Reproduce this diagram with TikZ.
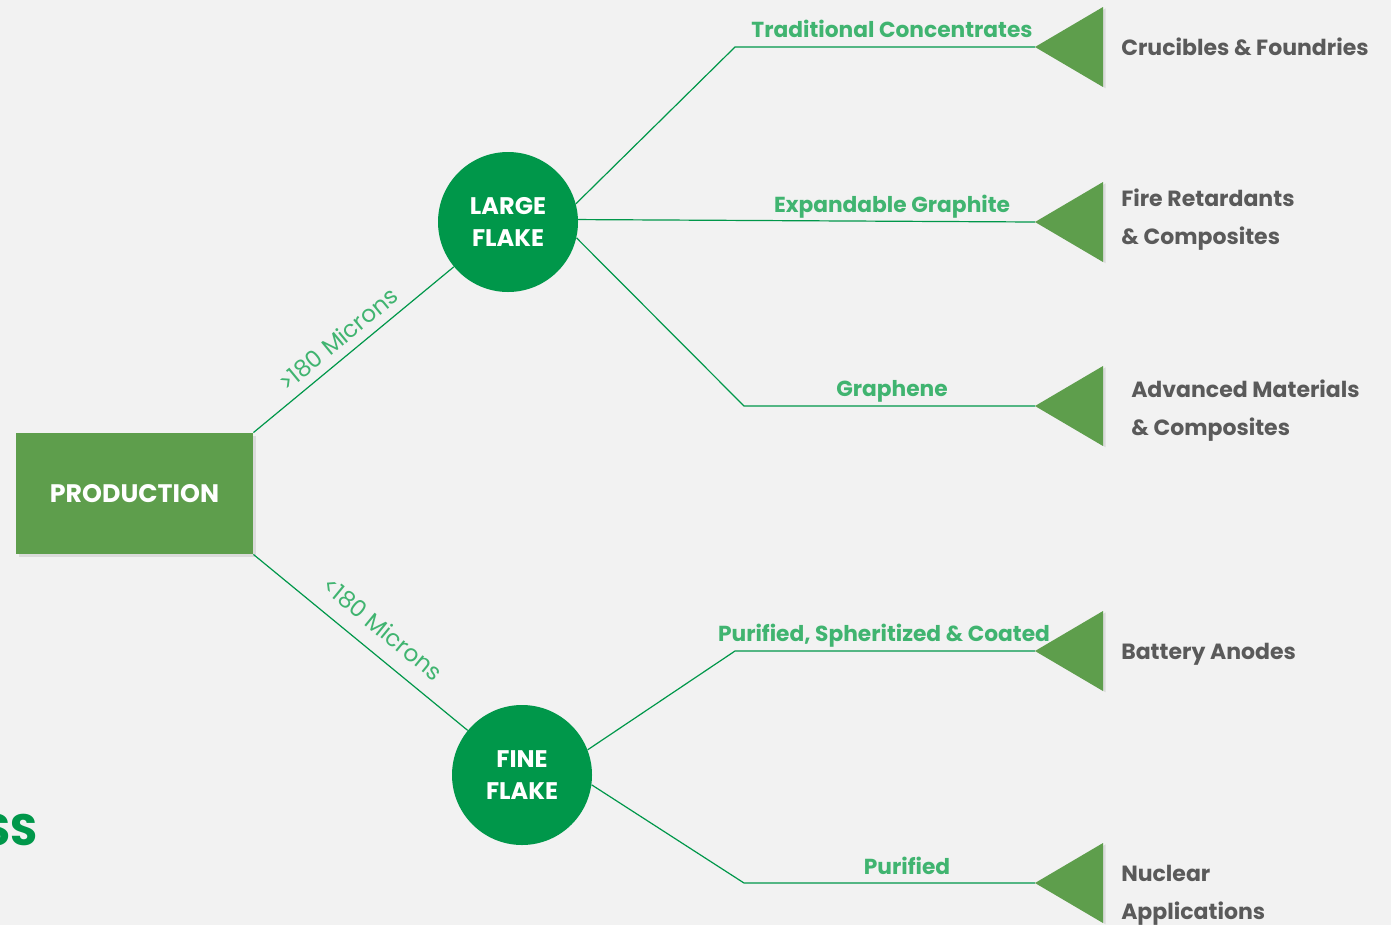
\documentclass[tikz,border=0pt]{standalone}
\usepackage{fontspec}
\setmainfont{Poppins}
\usetikzlibrary{shadows}

\definecolor{pagegray}{RGB}{242,242,242}
\definecolor{leafgreen}{RGB}{94,158,76}
\definecolor{deepgreen}{RGB}{0,151,74}
\definecolor{labelgreen}{RGB}{64,180,112}
\definecolor{textgray}{RGB}{90,90,90}

\begin{document}
\begin{tikzpicture}[x=0.75pt,y=-0.75pt,
  link/.style={draw=deepgreen, line width=0.9pt},
  flake/.style={circle, fill=deepgreen, minimum size=105pt, inner sep=0pt,
    text=white, align=center, font=\fontsize{18}{24}\selectfont\bfseries},
  use/.style={text=textgray, anchor=west, align=left, inner sep=0pt,
    font=\fontsize{16.5}{28.5}\selectfont\bfseries},
  grade/.style={text=labelgreen, anchor=base,
    font=\fontsize{16.3}{20}\selectfont\bfseries},
  size/.style={text=labelgreen, sloped, above=3pt, font=\fontsize{17.5}{20}\selectfont},
  wedge/.style={fill=leafgreen, drop shadow={opacity=0.2, shadow xshift=2pt, shadow yshift=-1pt}}]

  \fill[pagegray] (0,0) rectangle (1391,925);
  \useasboundingbox (0,0) rectangle (1391,925);
  \clip (0,0) rectangle (1391,925);

  \node[text=deepgreen, anchor=east, inner sep=0pt,
    font=\fontsize{33}{36}\selectfont\bfseries] (ss) at (38,830) {SS};

  \node[fill=leafgreen, minimum width=178pt, minimum height=91pt,
    text=white, font=\fontsize{19}{20}\selectfont\bfseries,
    drop shadow={opacity=0.2, shadow xshift=2pt, shadow yshift=-2pt}]
    (prod) at (134.5,493.5) {PRODUCTION};

  \node[flake] (large) at (508,222) {LARGE\\FLAKE};
  \node[flake] (fine) at (522,775) {FINE\\FLAKE};

  % end wedges
  \foreach \n/\y in {1/47, 2/222, 3/406, 4/651, 5/883} {
    \coordinate (tip\n) at (1035,\y);
    \fill[wedge] (tip\n) -- (1103,\y-40) -- (1103,\y+40) -- cycle;
  }

  \coordinate (b1) at (735,47);
  \coordinate (b3) at (744,406);
  \coordinate (b4) at (735,651);
  \coordinate (b5) at (744,883);

  \draw[link] (prod.north east) -- (large)
    node[size, pos=0.48]{>180 Microns};
  \draw[link] (prod.south east) -- (fine)
    node[size, pos=0.53, above=5pt]{<180 Microns};

  \draw[link] (large.15) -- (b1) -- (tip1);
  \draw[link] (large.2) -- (tip2);
  \draw[link] (large.-13) -- (b3) -- (tip3);
  \draw[link] (fine.21) -- (b4) -- (tip4);
  \draw[link] (fine.-8) -- (b5) -- (tip5);

  \node[grade] (g1) at (892,37) {Traditional Concentrates};
  \node[grade] (g2) at (892,212) {Expandable Graphite};
  \node[grade] (g3) at (892,396) {Graphene};
  \node[grade] (g4) at (884,641) {Purified, Spheritized \& Coated};
  \node[grade] (g5) at (907,874) {Purified};

  \node[use] (u1) at (1121,47) {Crucibles \& Foundries};
  \node[use] (u2) at (1121,220) {Fire Retardants\\\& Composites};
  \node[use] (u3) at (1131,411) {Advanced Materials\\\& Composites};
  \node[use] (u4) at (1121,654) {Battery Anodes};
  \node[use] (u5) at (1121,895) {Nuclear\\Applications};

\end{tikzpicture}
\end{document}
